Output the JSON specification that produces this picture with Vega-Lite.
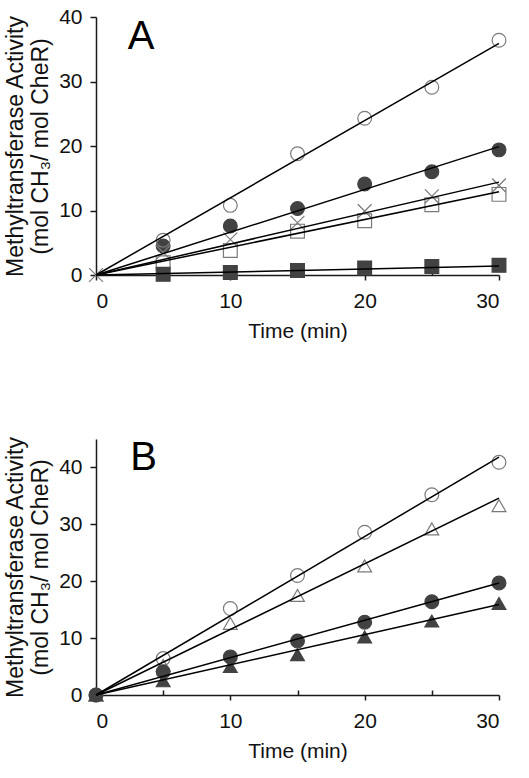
{
  "$schema": "https://vega.github.io/schema/vega-lite/v6.json",
  "padding": {"left": 4, "top": 6, "right": 5, "bottom": 5},
  "background": "white",
  "spacing": 94,
  "resolve": {"scale": {"shape": "independent", "fill": "independent", "stroke": "independent"}},
  "config": {
    "view": {"stroke": null},
    "font": "Liberation Sans",
    "axis": {
      "grid": false,
      "domainColor": "#1a1a1a",
      "domainWidth": 1.5,
      "tickColor": "#1a1a1a",
      "tickWidth": 1.5,
      "labelFont": "Liberation Sans",
      "labelFontSize": 21,
      "labelColor": "#111111",
      "titleFont": "Liberation Sans",
      "titleFontSize": 21,
      "titleFontWeight": "normal",
      "titleColor": "#111111"
    }
  },
  "datasets": {
    "A_points": [
      {"series": "filled circle", "t": 5, "v": 4.5},
      {"series": "filled circle", "t": 10, "v": 7.6},
      {"series": "filled circle", "t": 15, "v": 10.3},
      {"series": "filled circle", "t": 20, "v": 14.1},
      {"series": "filled circle", "t": 25, "v": 16.0},
      {"series": "filled circle", "t": 30, "v": 19.4},
      {"series": "open circle", "t": 5, "v": 5.4},
      {"series": "open circle", "t": 10, "v": 10.8},
      {"series": "open circle", "t": 15, "v": 18.8},
      {"series": "open circle", "t": 20, "v": 24.3},
      {"series": "open circle", "t": 25, "v": 29.1},
      {"series": "open circle", "t": 30, "v": 36.4},
      {"series": "open square", "t": 5, "v": 1.9},
      {"series": "open square", "t": 10, "v": 3.8},
      {"series": "open square", "t": 15, "v": 6.8},
      {"series": "open square", "t": 20, "v": 8.4},
      {"series": "open square", "t": 25, "v": 10.9},
      {"series": "open square", "t": 30, "v": 12.5},
      {"series": "cross", "t": 0, "v": 0},
      {"series": "cross", "t": 5, "v": 3.5},
      {"series": "cross", "t": 10, "v": 5.5},
      {"series": "cross", "t": 15, "v": 8.1},
      {"series": "cross", "t": 20, "v": 9.9},
      {"series": "cross", "t": 25, "v": 12.2},
      {"series": "cross", "t": 30, "v": 13.9},
      {"series": "filled square", "t": 5, "v": 0.1},
      {"series": "filled square", "t": 10, "v": 0.4},
      {"series": "filled square", "t": 15, "v": 0.7},
      {"series": "filled square", "t": 20, "v": 1.1},
      {"series": "filled square", "t": 25, "v": 1.3},
      {"series": "filled square", "t": 30, "v": 1.5}
    ],
    "A_fits": [
      {"series": "open circle", "t": 0, "v": 0},
      {"series": "open circle", "t": 30, "v": 35.9},
      {"series": "filled circle", "t": 0, "v": 0},
      {"series": "filled circle", "t": 30, "v": 19.9},
      {"series": "cross", "t": 0, "v": 0},
      {"series": "cross", "t": 30, "v": 14.4},
      {"series": "open square", "t": 0, "v": 0},
      {"series": "open square", "t": 30, "v": 12.9},
      {"series": "filled square", "t": 0, "v": 0},
      {"series": "filled square", "t": 30, "v": 1.4}
    ],
    "B_points": [
      {"series": "open circle", "t": 0, "v": 0},
      {"series": "open circle", "t": 5, "v": 6.4},
      {"series": "open circle", "t": 10, "v": 15.2},
      {"series": "open circle", "t": 15, "v": 21.0},
      {"series": "open circle", "t": 20, "v": 28.6},
      {"series": "open circle", "t": 25, "v": 35.2},
      {"series": "open circle", "t": 30, "v": 40.9},
      {"series": "open triangle", "t": 0, "v": 0},
      {"series": "open triangle", "t": 5, "v": 5.2},
      {"series": "open triangle", "t": 10, "v": 12.6},
      {"series": "open triangle", "t": 15, "v": 17.5},
      {"series": "open triangle", "t": 20, "v": 22.7},
      {"series": "open triangle", "t": 25, "v": 29.2},
      {"series": "open triangle", "t": 30, "v": 33.3},
      {"series": "filled triangle", "t": 0, "v": 0},
      {"series": "filled triangle", "t": 5, "v": 2.5},
      {"series": "filled triangle", "t": 10, "v": 5.0},
      {"series": "filled triangle", "t": 15, "v": 7.1},
      {"series": "filled triangle", "t": 20, "v": 10.2},
      {"series": "filled triangle", "t": 25, "v": 13.0},
      {"series": "filled triangle", "t": 30, "v": 16.1},
      {"series": "filled circle", "t": 0, "v": 0},
      {"series": "filled circle", "t": 5, "v": 4.1},
      {"series": "filled circle", "t": 10, "v": 6.7},
      {"series": "filled circle", "t": 15, "v": 9.5},
      {"series": "filled circle", "t": 20, "v": 12.8},
      {"series": "filled circle", "t": 25, "v": 16.4},
      {"series": "filled circle", "t": 30, "v": 19.7}
    ],
    "B_fits": [
      {"series": "open circle", "t": 0, "v": 0},
      {"series": "open circle", "t": 30, "v": 41.8},
      {"series": "open triangle", "t": 0, "v": 0},
      {"series": "open triangle", "t": 30, "v": 34.6},
      {"series": "filled circle", "t": 0, "v": 0},
      {"series": "filled circle", "t": 30, "v": 19.7},
      {"series": "filled triangle", "t": 0, "v": 0},
      {"series": "filled triangle", "t": 30, "v": 15.9}
    ]
  },
  "vconcat": [
    {
      "width": 403,
      "height": 258,
      "layer": [
        {
          "data": {"name": "A_points"},
          "mark": {"type": "point", "filled": true, "size": 190, "strokeWidth": 1.2, "opacity": 1, "clip": false},
          "encoding": {
            "x": {"field": "t", "type": "quantitative", "scale": {"domain": [0, 30], "nice": false},
              "axis": {"title": "Time (min)", "values": [0, 5, 10, 15, 20, 25, 30],
                "labelExpr": "datum.value % 10 === 0 ? datum.label : ''",
                "tickSize": {"condition": {"test": "datum.value % 10 === 0", "value": 5}, "value": -5},
                "labelPadding": 10, "titlePadding": 9}},
            "y": {"field": "v", "type": "quantitative", "scale": {"domain": [0, 40], "nice": false},
              "axis": {"title": ["Methyltransferase Activity", "(mol CH₃/ mol CheR)"], "values": [0, 5, 10, 15, 20, 25, 30, 35, 40],
                "labelExpr": "datum.value % 10 === 0 ? datum.label : ''",
                "tickSize": {"condition": {"test": "datum.value % 10 === 0", "value": 6}, "value": -6},
                "labelPadding": 8, "titlePadding": 6, "titleFontSize": 23, "titleLineHeight": 25}},
            "shape": {"field": "series", "type": "nominal", "legend": null,
              "scale": {"domain": ["open circle", "filled circle", "cross", "open square", "filled square"],
                "range": ["circle", "circle", "M-1,-1L1,1M1,-1L-1,1", "square", "square"]}},
            "fill": {"field": "series", "type": "nominal", "legend": null,
              "scale": {"domain": ["open circle", "filled circle", "cross", "open square", "filled square"],
                "range": ["transparent", "#424242", "transparent", "transparent", "#424242"]}},
            "stroke": {"field": "series", "type": "nominal", "legend": null,
              "scale": {"domain": ["open circle", "filled circle", "cross", "open square", "filled square"],
                "range": ["#7a7a7a", "#424242", "#7a7a7a", "#7a7a7a", "#424242"]}}
          }
        },
        {
          "data": {"name": "A_fits"},
          "mark": {"type": "line", "color": "#000000", "strokeWidth": 1.5, "clip": false},
          "encoding": {
            "x": {"field": "t", "type": "quantitative"},
            "y": {"field": "v", "type": "quantitative"},
            "detail": {"field": "series", "type": "nominal"}
          }
        },
        {
          "data": {"values": [{}]},
          "mark": {"type": "text", "text": "A", "fontSize": 40, "font": "Liberation Sans", "align": "center", "baseline": "alphabetic", "color": "#000000"},
          "encoding": {"x": {"datum": 3.35}, "y": {"datum": 35}}
        }
      ]
    },
    {
      "width": 403,
      "height": 256,
      "layer": [
        {
          "data": {"name": "B_points"},
          "mark": {"type": "point", "filled": true, "size": 190, "strokeWidth": 1.2, "opacity": 1, "clip": false},
          "encoding": {
            "x": {"field": "t", "type": "quantitative", "scale": {"domain": [0, 30], "nice": false},
              "axis": {"title": "Time (min)", "values": [0, 5, 10, 15, 20, 25, 30],
                "labelExpr": "datum.value % 10 === 0 ? datum.label : ''",
                "tickSize": {"condition": {"test": "datum.value % 10 === 0", "value": 5}, "value": -5},
                "labelPadding": 10, "titlePadding": 9}},
            "y": {"field": "v", "type": "quantitative", "scale": {"domain": [0, 45], "nice": false},
              "axis": {"title": ["Methyltransferase Activity", "(mol CH₃/ mol CheR)"], "values": [0, 5, 10, 15, 20, 25, 30, 35, 40, 45],
                "labelExpr": "datum.value % 10 === 0 ? datum.label : ''",
                "tickSize": {"condition": {"test": "datum.value % 10 === 0", "value": 6}, "value": -6},
                "labelPadding": 8, "titlePadding": 6, "titleFontSize": 23, "titleLineHeight": 25}},
            "shape": {"field": "series", "type": "nominal", "legend": null,
              "scale": {"domain": ["open circle", "open triangle", "filled circle", "filled triangle"],
                "range": ["circle", "triangle-up", "circle", "triangle-up"]}},
            "fill": {"field": "series", "type": "nominal", "legend": null,
              "scale": {"domain": ["open circle", "open triangle", "filled circle", "filled triangle"],
                "range": ["transparent", "transparent", "#424242", "#424242"]}},
            "stroke": {"field": "series", "type": "nominal", "legend": null,
              "scale": {"domain": ["open circle", "open triangle", "filled circle", "filled triangle"],
                "range": ["#7a7a7a", "#7a7a7a", "#424242", "#424242"]}}
          }
        },
        {
          "data": {"name": "B_fits"},
          "mark": {"type": "line", "color": "#000000", "strokeWidth": 1.5, "clip": false},
          "encoding": {
            "x": {"field": "t", "type": "quantitative"},
            "y": {"field": "v", "type": "quantitative"},
            "detail": {"field": "series", "type": "nominal"}
          }
        },
        {
          "data": {"values": [{}]},
          "mark": {"type": "text", "text": "B", "fontSize": 40, "font": "Liberation Sans", "align": "center", "baseline": "alphabetic", "color": "#000000"},
          "encoding": {"x": {"datum": 3.55}, "y": {"datum": 39.5}}
        }
      ]
    }
  ]
}
